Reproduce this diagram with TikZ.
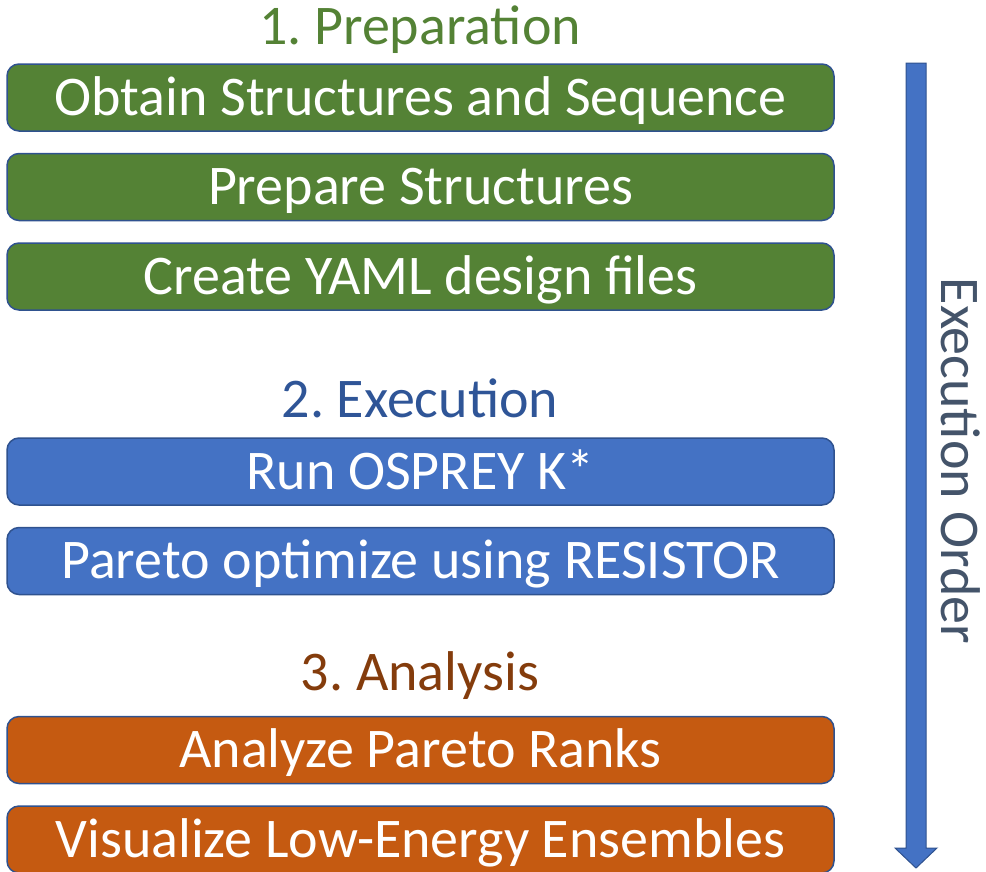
\documentclass[tikz,border=0pt]{standalone}
\usepackage{fontspec}
\setmainfont{Carlito}
\usepackage{tikz}
\usetikzlibrary{shapes,arrows,positioning}
\definecolor{prepgreen}{HTML}{548235}
\definecolor{execblue}{HTML}{4472C4}
\definecolor{analorange}{HTML}{C55A11}
\definecolor{edgeblue}{HTML}{2F528F}
\definecolor{titleblue}{HTML}{2F5597}
\definecolor{titlebrown}{HTML}{843C0C}
\definecolor{slate}{HTML}{44546A}
\frenchspacing

\begin{document}
\begin{tikzpicture}[x=1pt,y=1pt,
  stepbox/.style={draw=edgeblue, line width=1.5pt, rounded corners=12pt,
    minimum width=827pt, minimum height=67pt, inner sep=0pt,
    text height=40pt, text depth=5pt,
    text=white, font=\fontsize{56}{64}\selectfont},
  phase/.style={inner sep=0pt, font=\fontsize{56}{64}\selectfont},
  node distance=21pt]
\useasboundingbox (0,0) rectangle (986,-871);

\node[phase, text=prepgreen, anchor=base] (prep) at (420,-44) {1. Preparation};
\node[stepbox, fill=prepgreen] (obtain) at (420.5,-97.5) {Obtain Structures and Sequence};
\node[stepbox, fill=prepgreen, below=of obtain] (prepare) {Prepare Structures};
\node[stepbox, fill=prepgreen, below=of prepare] (yaml) {Create YAML design files};

\node[phase, text=titleblue, anchor=base] (exec) at (420,-417) {2. Execution};
\node[stepbox, fill=execblue] (osprey) at (420.5,-471.5) {Run OSPREY K*};
\node[stepbox, fill=execblue, below=of osprey] (pareto) {Pareto optimize using RESISTOR};

\node[phase, text=titlebrown, anchor=base] (anal) at (420,-690) {3. Analysis};
\node[stepbox, fill=analorange] (ranks) at (420.5,-750) {Analyze Pareto Ranks};
\node[stepbox, fill=analorange, below=of ranks] (visual) {Visualize Low-Energy Ensembles};

\coordinate (top) at (916,-63);
\coordinate (tip) at (916,-868);
\fill[execblue, draw=edgeblue, line width=1pt]
  ([xshift=-10pt]top) -- ([xshift=10pt]top) -- ([xshift=10pt,yshift=20pt]tip)
  -- ([xshift=21pt,yshift=20pt]tip) -- (tip) -- ([xshift=-21pt,yshift=20pt]tip)
  -- ([xshift=-10pt,yshift=20pt]tip) -- cycle;
\node[phase, text=slate, rotate=-90, anchor=base] (order) at (941,-461) {Execution Order};
\end{tikzpicture}
\end{document}
